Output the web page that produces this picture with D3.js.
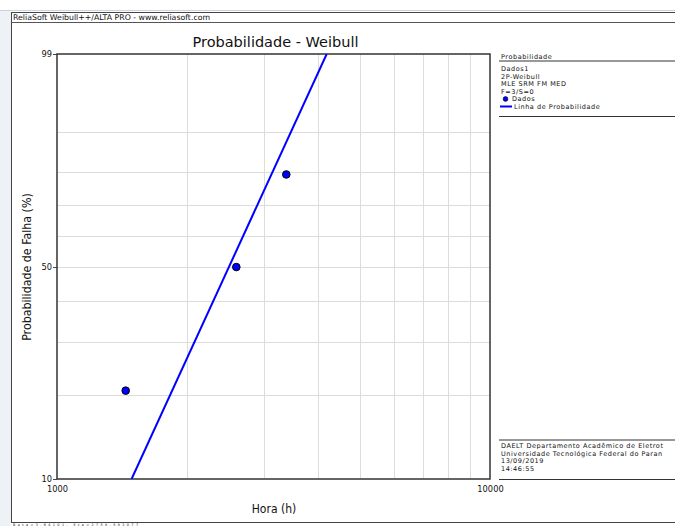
<!DOCTYPE html>
<html>
<head>
<meta charset="utf-8">
<script src="https://cdn.jsdelivr.net/npm/d3@7"></script>
<style>
  body { margin: 0; background: #ffffff; overflow: hidden; }
  svg { display: block; }
  text { font-family: "DejaVu Sans", Verdana, sans-serif; fill: #111; }
  .cond { font-family: "DejaVu Sans Condensed", "DejaVu Sans", sans-serif; font-stretch: condensed; }
  .small { font-size: 6.5px; letter-spacing: 0.55px; }
</style>
</head>
<body>
<svg id="chart" width="675" height="526"></svg>
<script>
// Failure times (hours) and median-rank unreliability (%) for the three failures
const hours = [1441, 2595, 3385];
const failureProb = [20.63, 50.0, 79.37];

// Fitted 2P-Weibull parameters and the probability range the line spans
const fitBeta = 3.64101;
const fitEta = 2758.583077;
const fitProb = [10, 99];

// Axis ticks and grid
const xTicks = [1000, 10000];
const xGrid = [2000, 3000, 4000, 5000, 6000, 7000, 8000, 9000];
const yTicks = [10, 50, 99];
const yGrid = [20, 30, 40, 60, 70, 80, 90];

// Texts
const headerText = "ReliaSoft Weibull++/ALTA PRO - www.reliasoft.com";
const chartTitle = "Probabilidade - Weibull";
const xLabel = "Hora (h)";
const yLabel = "Probabilidade de Falha (%)";
const legendTitle = "Probabilidade";
const legendInfo = ["Dados1", "2P-Weibull", "MLE SRM FM MED", "F=3/S=0"];
const legendSeries = ["Dados", "Linha de Probabilidade"];
const footerInfo = ["DAELT Departamento Acadêmico de Eletrot",
                    "Universidade Tecnológica Federal do Paran",
                    "13/09/2019",
                    "14:46:55"];
const paramText = "Beta=3,64101, Eta=2758,583077";

const svg = d3.select("#chart");

// Page background strip and outer frame
svg.append("rect").attr("x", 0).attr("y", 11).attr("width", 11).attr("height", 515).attr("fill", "#eef1f5");
svg.append("line").attr("x1", 0).attr("x2", 675).attr("y1", 10.5).attr("y2", 10.5).attr("stroke", "#c9d2de");
svg.append("rect").attr("x", 11.5).attr("y", 12.5).attr("width", 680).attr("height", 510)
  .attr("fill", "#ffffff").attr("stroke", "#444").attr("stroke-width", 1);
svg.append("line").attr("x1", 11.5).attr("x2", 675).attr("y1", 22.5).attr("y2", 22.5).attr("stroke", "#555");
svg.append("text").attr("x", 13).attr("y", 20.3).attr("font-size", 7.8).text(headerText);
// Parameter line in the thin strip below the frame
svg.append("text").attr("x", 13).attr("y", 525.8).attr("font-size", 3.4)
  .attr("letter-spacing", 2.4).attr("fill", "#333").text(paramText);

// Plot area
const plot = { left: 57, right: 490, top: 54, bottom: 479 };

// Weibull probability paper: y is linear in ln(-ln(1-F))
const wb = p => Math.log(-Math.log(1 - p / 100));
const x = d3.scaleLog().domain([1000, 10000]).range([plot.left, plot.right]);
const yW = d3.scaleLinear().domain([wb(10), wb(99)]).range([plot.bottom, plot.top]);
const y = p => yW(wb(p));

// Grid
const grid = svg.append("g").attr("stroke", "#dcdcdc").attr("stroke-width", 1);
grid.selectAll(".gx").data(xGrid).join("line")
  .attr("x1", d => Math.round(x(d)) + 0.5).attr("x2", d => Math.round(x(d)) + 0.5)
  .attr("y1", plot.top).attr("y2", plot.bottom);
grid.selectAll(".gy").data(yGrid.concat([50])).join("line")
  .attr("x1", plot.left).attr("x2", plot.right)
  .attr("y1", d => Math.round(y(d)) + 0.5).attr("y2", d => Math.round(y(d)) + 0.5);

// Axes
const yAxis = d3.axisLeft(yW)
  .tickValues(yTicks.map(wb))
  .tickFormat((d, i) => yTicks[i])
  .tickSize(4).tickPadding(1);
const gy = svg.append("g").attr("transform", `translate(${plot.left},0)`).call(yAxis);
gy.select(".domain").remove();
gy.selectAll(".tick line").attr("stroke", "#444");
gy.selectAll(".tick text").attr("font-size", 9.2).attr("fill", "#222").attr("class", "cond")
  .attr("dy", "0.25em")
  .attr("font-family", "'DejaVu Sans Condensed','DejaVu Sans',sans-serif");

const xAxis = d3.axisBottom(x).tickValues(xTicks).tickFormat(d3.format("d")).tickSize(0).tickPadding(6.6);
const gx = svg.append("g").attr("transform", `translate(0,${plot.bottom})`).call(xAxis);
gx.select(".domain").remove();
gx.selectAll(".tick text").attr("font-size", 9.2).attr("fill", "#222").attr("class", "cond")
  .attr("font-family", "'DejaVu Sans Condensed','DejaVu Sans',sans-serif");

// Plot border
svg.append("rect").attr("x", plot.left).attr("y", plot.top)
  .attr("width", plot.right - plot.left).attr("height", plot.bottom - plot.top)
  .attr("fill", "none").attr("stroke", "#333").attr("stroke-width", 1.5);

// Probability line: straight on Weibull paper, t = eta * (-ln(1-F))^(1/beta)
svg.append("clipPath").attr("id", "plotClip").append("rect")
  .attr("x", plot.left).attr("y", plot.top)
  .attr("width", plot.right - plot.left).attr("height", plot.bottom - plot.top);
const fitHours = fitProb.map(p => fitEta * Math.pow(-Math.log(1 - p / 100), 1 / fitBeta));
const fitLine = d3.line().x(d => x(d[0])).y(d => y(d[1]));
svg.append("path").datum(d3.zip(fitHours, fitProb))
  .attr("d", fitLine).attr("fill", "none").attr("stroke", "#0000ff").attr("stroke-width", 2)
  .attr("clip-path", "url(#plotClip)");

// Data points
svg.append("g").selectAll("circle").data(d3.zip(hours, failureProb)).join("circle")
  .attr("cx", d => x(d[0])).attr("cy", d => y(d[1])).attr("r", 3.8)
  .attr("fill", "#0000ff").attr("stroke", "#000").attr("stroke-width", 1);

// Titles
svg.append("text").attr("x", 275.5).attr("y", 46.5)
  .attr("text-anchor", "middle").attr("font-size", 14.5).text(chartTitle);
svg.append("text").attr("class", "cond").attr("x", 274).attr("y", 513)
  .attr("text-anchor", "middle").attr("font-size", 12).text(xLabel);
svg.append("text").attr("class", "cond").attr("transform", `translate(30.5,${y(50)}) rotate(-90)`)
  .attr("text-anchor", "middle").attr("font-size", 12.3).text(yLabel);

// Legend panel
const step = 7.6;
const lg = svg.append("g");
lg.append("text").attr("class", "small").attr("x", 501).attr("y", 58.5).text(legendTitle);
lg.append("line").attr("x1", 499).attr("x2", 675).attr("y1", 61).attr("y2", 61).attr("stroke", "#333");
lg.selectAll(".info").data(legendInfo).join("text").attr("class", "small")
  .attr("x", 501).attr("y", (d, i) => 71 + i * step).text(d => d);
lg.append("circle").attr("cx", 505.5).attr("cy", 71 + 4 * step - 2.4).attr("r", 2.4)
  .attr("fill", "#0000ff").attr("stroke", "#000").attr("stroke-width", 0.6);
lg.append("text").attr("class", "small").attr("x", 512).attr("y", 71 + 4 * step).text(legendSeries[0]);
lg.append("line").attr("x1", 500).attr("x2", 512).attr("y1", 71 + 5 * step - 2.5).attr("y2", 71 + 5 * step - 2.5)
  .attr("stroke", "#0000ff").attr("stroke-width", 2);
lg.append("text").attr("class", "small").attr("x", 514).attr("y", 71 + 5 * step).text(legendSeries[1]);
lg.append("line").attr("x1", 499).attr("x2", 675).attr("y1", 116.5).attr("y2", 116.5).attr("stroke", "#333");

// Info panel
const ft = svg.append("g");
ft.append("line").attr("x1", 499).attr("x2", 675).attr("y1", 440).attr("y2", 440).attr("stroke", "#333");
ft.selectAll("text").data(footerInfo).join("text").attr("class", "small")
  .attr("x", 501).attr("y", (d, i) => 448.2 + i * step).text(d => d);
ft.append("line").attr("x1", 499).attr("x2", 675).attr("y1", 479.5).attr("y2", 479.5).attr("stroke", "#333");
</script>
</body>
</html>
